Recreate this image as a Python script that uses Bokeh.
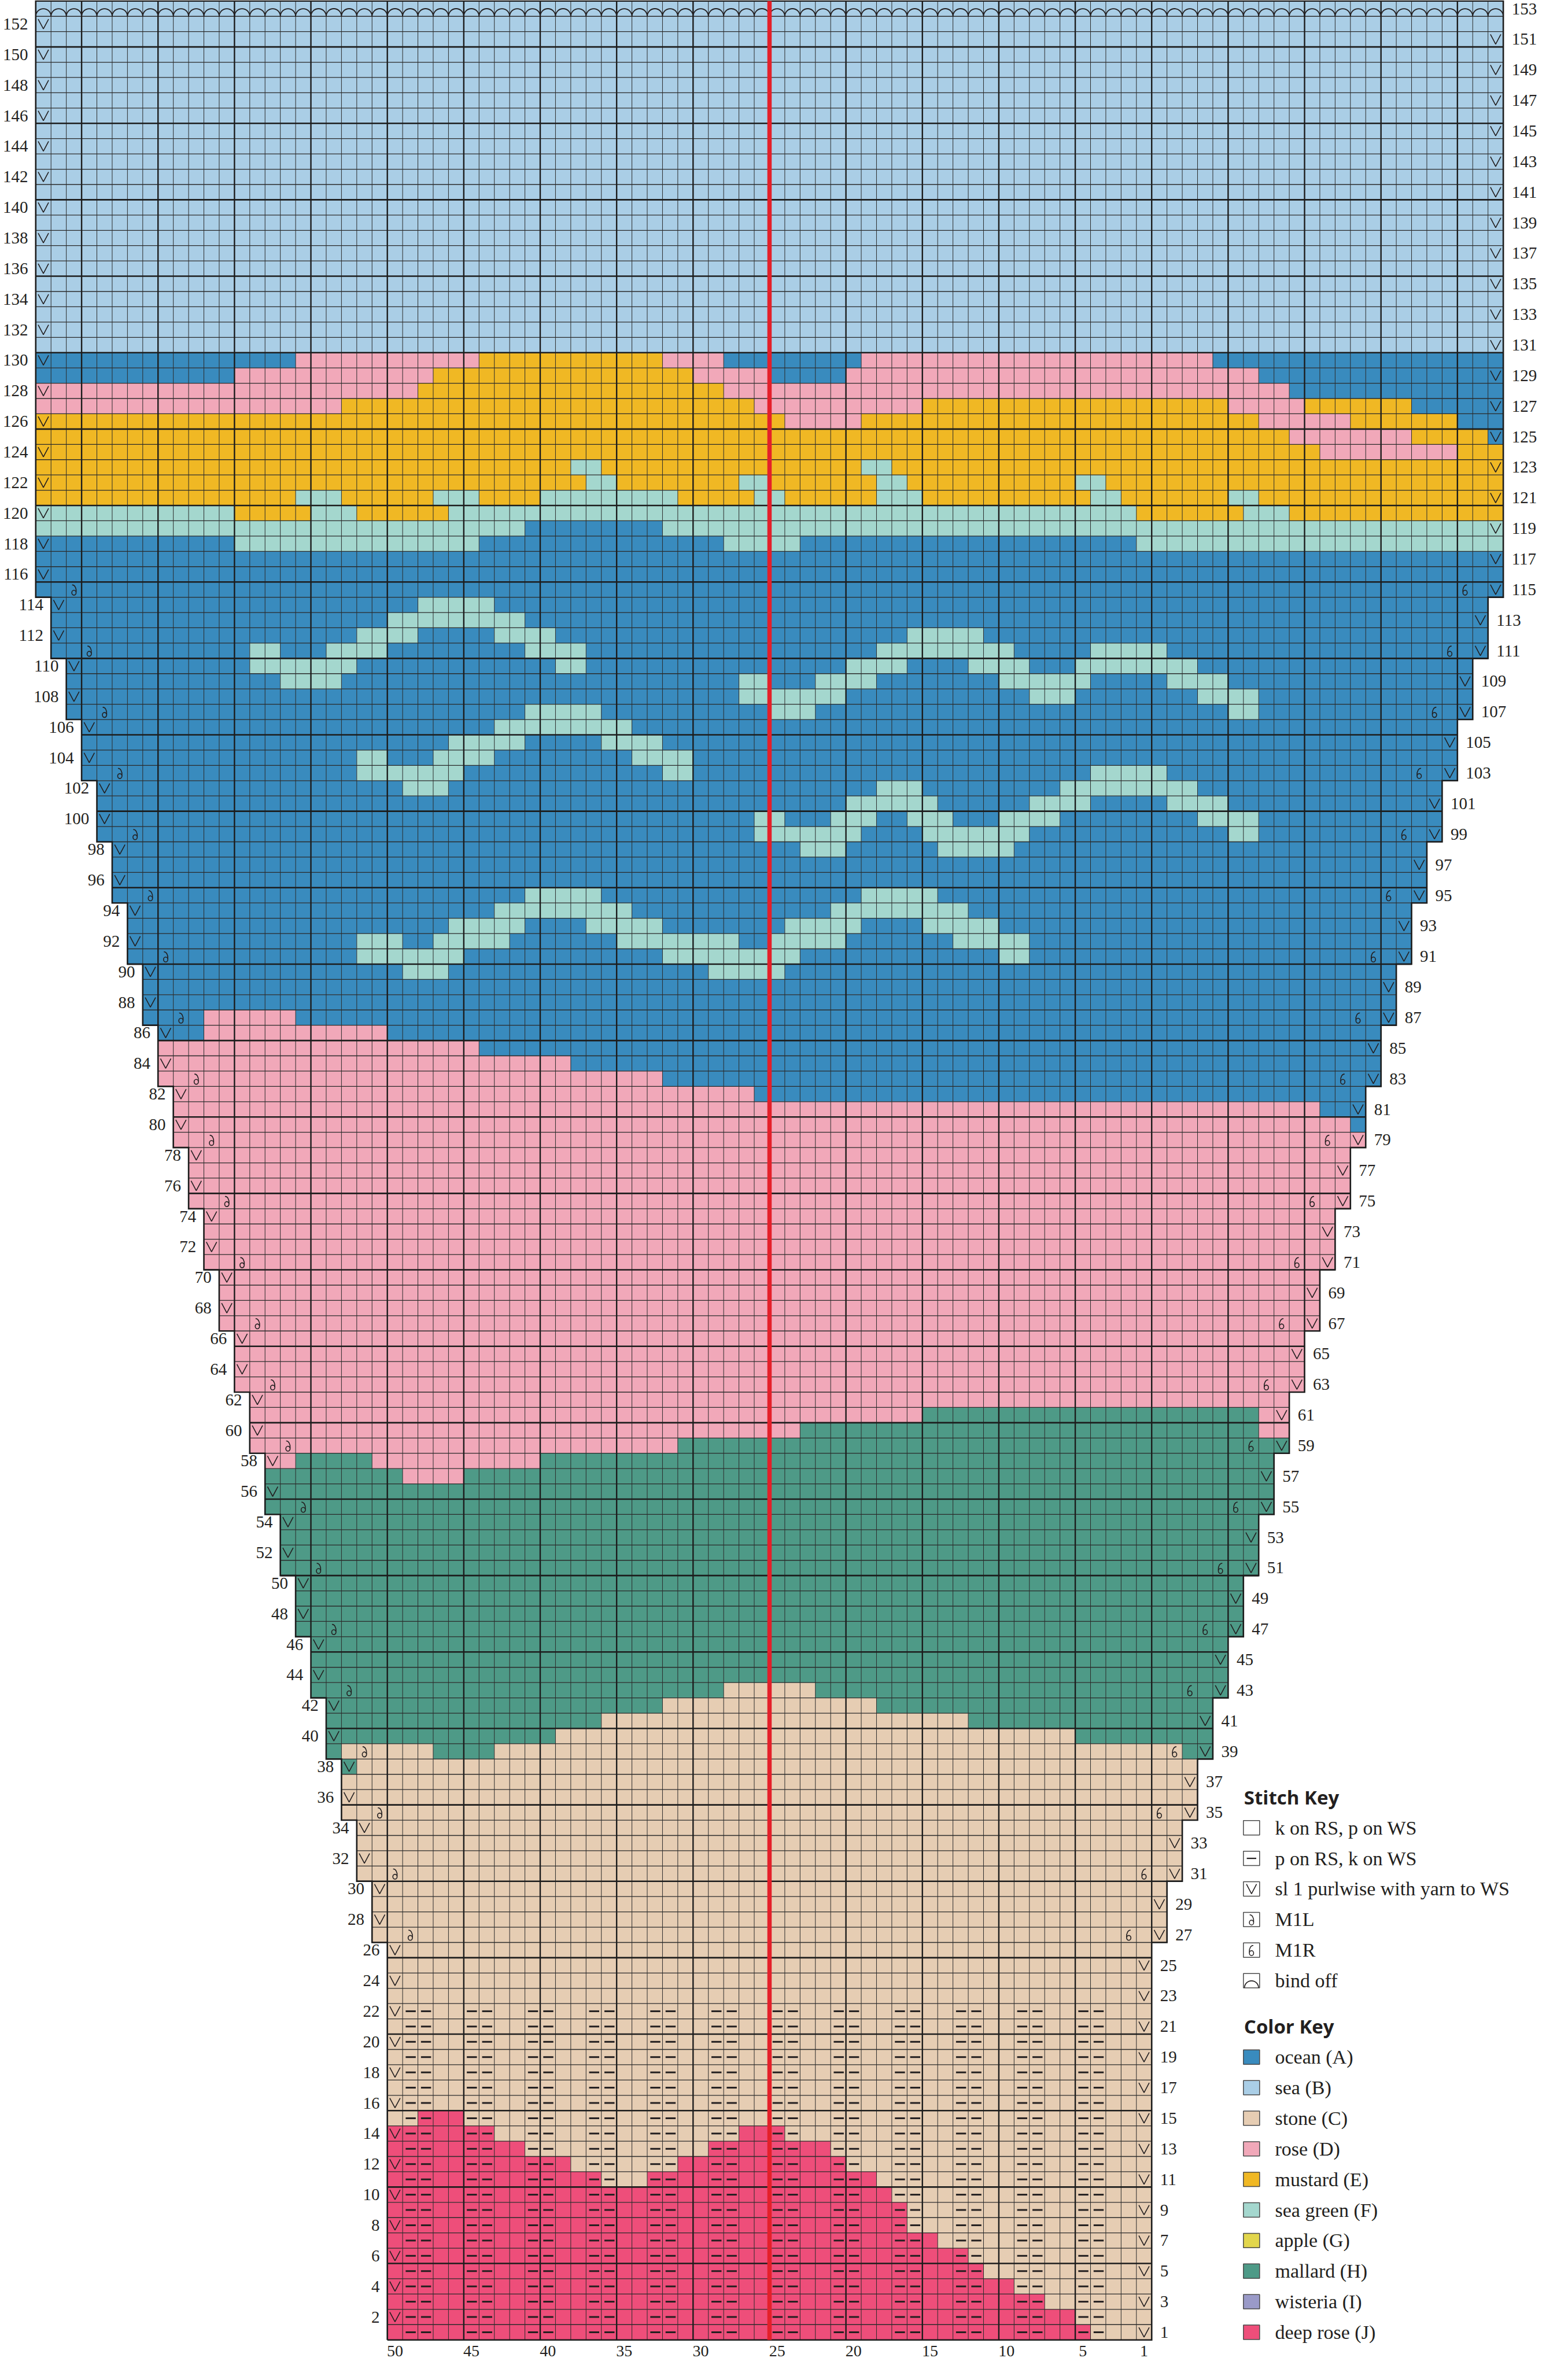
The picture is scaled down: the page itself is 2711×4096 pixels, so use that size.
import math
from bokeh.plotting import figure
from bokeh.models import Range1d, ColumnDataSource
from bokeh.core.properties import value
from bokeh.embed import file_html
from bokeh.resources import INLINE

# ------------------------------------------------------------------ data
TOP_ROW = 153
START_STITCHES = 50          # stitches 50..1 on the cast-on rows
LEFT_STITCH = 73             # stitch number of the leftmost (widest-row) grid column
CENTER_STITCH = 25           # red centre line sits on the left edge of stitch 25
INCREASE_ROWS = [27, 31, 35, 39, 43, 47, 51, 55, 59, 63, 67, 71, 75, 79, 83, 87,
                 91, 95, 99, 103, 107, 111, 115]
COL_TICKS = [50, 45, 40, 35, 30, 25, 20, 15, 10, 5, 1]
PURL_ROWS = [1, 2, 3, 4, 5, 6, 7, 8, 9, 10, 11, 12, 13, 14, 15, 16, 17, 18, 19, 20, 21, 22]
PURL_STITCHES = [49, 48, 45, 44, 41, 40, 37, 36, 33, 32, 29, 28, 25, 24, 21, 20,
                 17, 16, 13, 12, 9, 8, 5, 4]

COLOR_CODES = ["A", "B", "C", "D", "E", "F", "G", "H", "I", "J"]
COLOR_LABELS = ["ocean (A)", "sea (B)", "stone (C)", "rose (D)", "mustard (E)",
                "sea green (F)", "apple (G)", "mallard (H)", "wisteria (I)", "deep rose (J)"]
COLOR_HEX = ["#398bbe", "#aacee6", "#e6cdb3", "#f1a8b9", "#f0b824",
             "#a4d7ce", "#e2d64c", "#4e9a87", "#9a9ac8", "#ee4e7a"]
STITCH_LABELS = ["k on RS, p on WS", "p on RS, k on WS", "sl 1 purlwise with yarn to WS",
                 "M1L", "M1R", "bind off"]

# base colour per band of rows (row_from, row_to, colour)
BASE_COLOR = [(1, 38, "C"), (39, 58, "H"), (59, 85, "D"), (86, 130, "A"), (131, 153, "B")]

# colour runs per row, grid columns counted from the left edge of the widest row (0..95)
COLOR_RUNS = {
    1: "J23-68", 2: "J23-67", 3: "J23-65", 4: "J23-63", 5: "J23-61", 6: "J23-60",
    7: "J23-58", 8: "J23-56", 9: "J23-56", 10: "J23-55", 11: "J23-36 J40-54",
    12: "J23-34 J42-52", 13: "J23-31 J44-51", 14: "J23-29 J46-48", 15: "J25-27",
    38: "H20",
    39: "C20-25 C30-74", 40: "C34-67", 41: "C37-60", 42: "C41-54", 43: "C45-50",
    57: "D24-27",
    58: "D15-16 D22-32",
    59: "H42-81", 60: "H50-79", 61: "H58-79",
    80: "A86", 81: "A84-86", 82: "A47-86", 83: "A41-87", 84: "A35-87", 85: "A29-87",
    86: "D11-22", 87: "D11-16",
    90: "F24-26 F44-48",
    91: "F21-27 F41-49 F63-64",
    92: "F21-23 F26-30 F38-45 F48-52 F60-64",
    93: "F27-31 F36-40 F49-53 F58-62",
    94: "F30-38 F52-60",
    95: "F32-36 F54-58",
    98: "F50-52 F59-63",
    99: "F47-53 F58-64 F78-79",
    100: "F47-48 F52-54 F57-59 F63-66 F76-79",
    101: "F53-58 F65-68 F74-77",
    102: "F24-26 F55-57 F67-75",
    103: "F21-27 F41-42 F69-73",
    104: "F21-22 F26-29 F39-42",
    105: "F27-31 F37-40",
    106: "F30-38",
    107: "F32-36 F48-50 F78-79",
    108: "F46-52 F65-67 F76-79",
    109: "F16-19 F46-47 F51-54 F63-68 F74-77",
    110: "F14-20 F34-35 F53-56 F61-64 F68-75",
    111: "F14-15 F19-22 F32-35 F55-63 F69-73",
    112: "F21-24 F30-33 F57-61",
    113: "F23-31",
    114: "F25-29",
    118: "F13-28 F45-49 F72-95",
    119: "F0-31 F41-95",
    120: "F0-12 E13-17 F18-20 E21-26 F27-71 E72-78 F79-81 E82-95",
    121: "E0-16 F17-19 E20-25 F26-28 E29-32 F33-41 E42-46 F47-48 E49-54 F55-57 "
         "E58-68 F69-70 E71-77 F78-79 E80-95",
    122: "E0-35 F36-37 E38-45 F46-47 E48-54 F55-56 E57-67 F68-69 E70-95",
    123: "E0-34 F35-36 E37-53 F54-55 E56-95",
    124: "E0-83 D84-92 E93-95",
    125: "E0-81 D82-89 E90-94",
    126: "E0-48 D49-53 E54-79 D80-85 E86-92",
    127: "D0-19 E20-46 D47-57 E58-77 D78-82 E83-89",
    128: "D0-24 E25-44 D45-81",
    129: "D13-25 E26-42 D43-47 D53-79",
    130: "D17-28 E29-40 D41-44 D54-76",
}

# ------------------------------------------------------------------ helpers
ROWS = list(range(1, TOP_ROW + 1))
HEX = dict(zip(COLOR_CODES, COLOR_HEX))
CENTER_X = LEFT_STITCH - CENTER_STITCH


def n_inc(r):
    return sum(1 for q in INCREASE_ROWS if q <= r)


def left(r):
    return CENTER_X - (START_STITCHES // 2 + n_inc(r))


def right(r):
    return CENTER_X + START_STITCHES // 2 + n_inc(r)


def base_of(r):
    for a, b, c in BASE_COLOR:
        if a <= r <= b:
            return c
    return "B"


def parse_runs(s):
    out = []
    for tok in s.split():
        code, rng = tok[0], tok[1:]
        if "-" in rng:
            a, b = rng.split("-")
            out.append((code, int(a), int(b)))
        else:
            out.append((code, int(rng), int(rng)))
    return out


# ------------------------------------------------------------------ figure
CELL_REF = 26.51
SCALE = 0.997
PX = CELL_REF * SCALE
FIG_W, FIG_H = 2695, 4080
X0 = (8.0 / SCALE - 69.5) / CELL_REF
Y_TOP = 153.05

p = figure(width=FIG_W, height=FIG_H,
           x_range=Range1d(X0, X0 + FIG_W / PX),
           y_range=Range1d(Y_TOP - FIG_H / PX, Y_TOP),
           output_backend="svg", toolbar_location=None,
           x_axis_location=None, y_axis_location=None, min_border=0)
p.grid.visible = False
p.outline_line_color = None
p.background_fill_color = "white"
p.border_fill_color = "white"

INK = "#231f20"

# cell fills (merged runs per row)
q = dict(l=[], r=[], b=[], t=[], c=[])
for r in ROWS:
    lo, hi = left(r), right(r)
    cells = [base_of(r)] * (hi - lo)
    for code, a, b in parse_runs(COLOR_RUNS.get(r, "")):
        for i in range(max(a, lo), min(b, hi - 1) + 1):
            cells[i - lo] = code
    start = lo
    for i in range(lo + 1, hi + 1):
        if i == hi or cells[i - lo] != cells[start - lo]:
            q["l"].append(start); q["r"].append(i)
            q["b"].append(r - 1); q["t"].append(r)
            q["c"].append(HEX[cells[start - lo]])
            start = i
p.quad(left="l", right="r", bottom="b", top="t", fill_color="c", line_color=None,
       source=ColumnDataSource(q))


# grid lines
def vspan(x):
    inside = [r for r in ROWS if left(r) < x < right(r)]
    return min(inside) - 1, TOP_ROW


thin_v = dict(x0=[], y0=[], x1=[], y1=[])
thick_v = dict(x0=[], y0=[], x1=[], y1=[])
for x in range(1, right(TOP_ROW)):
    y0, y1 = vspan(x)
    d = thick_v if (x - 3) % 5 == 0 else thin_v
    d["x0"].append(x); d["x1"].append(x); d["y0"].append(y0); d["y1"].append(y1)
thin_h = dict(x0=[], y0=[], x1=[], y1=[])
thick_h = dict(x0=[], y0=[], x1=[], y1=[])
for y in range(1, TOP_ROW):
    d = thick_h if y % 5 == 0 else thin_h
    d["x0"].append(left(y + 1)); d["x1"].append(right(y + 1))
    d["y0"].append(y); d["y1"].append(y)

p.segment(x0="x0", y0="y0", x1="x1", y1="y1", source=ColumnDataSource(thin_v),
          line_color="#2b2b2b", line_width=1.0)
p.segment(x0="x0", y0="y0", x1="x1", y1="y1", source=ColumnDataSource(thin_h),
          line_color="#2b2b2b", line_width=1.3)
p.segment(x0="x0", y0="y0", x1="x1", y1="y1", source=ColumnDataSource(thick_v),
          line_color="#1c1c1c", line_width=2.4)
p.segment(x0="x0", y0="y0", x1="x1", y1="y1", source=ColumnDataSource(thick_h),
          line_color="#1c1c1c", line_width=2.6)

# outline of the stepped shape
ox, oy = [left(1)], [0]
for r in ROWS:
    ox += [right(r), right(r)]; oy += [r - 1, r]
for r in reversed(ROWS):
    ox += [left(r), left(r)]; oy += [r, r - 1]
p.line(ox, oy, line_color="#1c1c1c", line_width=2.6, line_join="miter")

# slipped-stitch V's
vx, vy = [], []
for r in range(1, TOP_ROW):
    i = left(r) if r % 2 == 0 else right(r) - 1
    vx.append([i + 0.16, i + 0.5, i + 0.84])
    vy.append([r - 0.18, r - 0.82, r - 0.18])
p.multi_line(vx, vy, line_color=INK, line_width=1.6)

# purl dashes
dx0, dx1, dy = [], [], []
for r in PURL_ROWS:
    for k in PURL_STITCHES:
        i = LEFT_STITCH - k
        dx0.append(i + 0.2); dx1.append(i + 0.86); dy.append(r - 0.5)
p.segment(x0=dx0, y0=dy, x1=dx1, y1=dy, line_color=INK, line_width=3.0)


# M1L / M1R glyphs
def m1(cxs, cys, mirror, lw=1.6):
    s = -1.0 if mirror else 1.0
    p.ellipse(x=cxs, y=[c - 0.2 for c in cys], width=0.28, height=0.32,
              fill_color=None, line_color=INK, line_width=lw)
    p.bezier(x0=[c + s * 0.14 for c in cxs], y0=[c - 0.16 for c in cys],
             cx0=[c + s * 0.17 for c in cxs], cy0=[c + 0.10 for c in cys],
             cx1=[c + s * 0.03 for c in cxs], cy1=[c + 0.33 for c in cys],
             x1=[c - s * 0.12 for c in cxs], y1=[c + 0.30 for c in cys],
             line_color=INK, line_width=lw)


m1([left(r) + 2.5 for r in INCREASE_ROWS], [r - 0.5 for r in INCREASE_ROWS], False)
m1([right(r) - 2.5 for r in INCREASE_ROWS], [r - 0.5 for r in INCREASE_ROWS], True)

# bind-off arcs on the last row
bx = [i + 0.5 for i in range(left(TOP_ROW), right(TOP_ROW))]
p.arc(x=bx, y=[TOP_ROW - 1] * len(bx), radius=0.5, start_angle=0, end_angle=math.pi,
      line_color=INK, line_width=1.8)

# red centre line
p.segment(x0=[CENTER_X], y0=[0], x1=[CENTER_X], y1=[TOP_ROW], line_color="#e4202a",
          line_width=7.5)

# row numbers
FONT = value("Liberation Serif")
even = [r for r in ROWS if r % 2 == 0]
odd = [r for r in ROWS if r % 2 == 1]
p.text(x=[left(r) - 0.5 for r in even], y=[r - 0.5 for r in even], text=[str(r) for r in even],
       text_font=FONT, text_font_size="29px", text_align="right", text_baseline="middle",
       text_color=INK)
p.text(x=[right(r) + 0.55 for r in odd], y=[r - 0.5 for r in odd], text=[str(r) for r in odd],
       text_font=FONT, text_font_size="29px", text_align="left", text_baseline="middle",
       text_color=INK)
# stitch numbers
p.text(x=[LEFT_STITCH - k + 0.5 for k in COL_TICKS], y=[-0.72] * len(COL_TICKS),
       text=[str(k) for k in COL_TICKS], text_font=FONT, text_font_size="28px",
       text_align="center", text_baseline="middle", text_color=INK)

# ------------------------------------------------------------------ keys
KX0, KX1, KT = 79.0, 80.06, 81.07
KC = (KX0 + KX1) / 2
HEAD = value("Open Sans")
p.text(x=[79.04, 79.04], y=[35.5, 20.5], text=["Stitch Key", "Color Key"], text_font=HEAD,
       text_font_style="bold", text_font_size="33px", text_align="left",
       text_baseline="middle", text_color=INK)

sy = [33.5 - 2 * j for j in range(len(STITCH_LABELS))]
p.quad(left=[KX0] * len(sy), right=[KX1] * len(sy), bottom=[y - 0.47 for y in sy],
       top=[y + 0.47 for y in sy], fill_color="white", line_color="#4a4a4a", line_width=1.5)
p.text(x=[KT] * len(sy), y=sy, text=STITCH_LABELS, text_font=FONT, text_font_size="34px",
       text_align="left", text_baseline="middle", text_color=INK)
p.segment(x0=[KX0 + 0.22], y0=[sy[1]], x1=[KX1 - 0.22], y1=[sy[1]], line_color=INK,
          line_width=2.2)
p.multi_line([[KC - 0.33, KC, KC + 0.33]], [[sy[2] + 0.32, sy[2] - 0.32, sy[2] + 0.32]],
             line_color=INK, line_width=1.6)
m1([KC], [sy[3]], False, 1.5)
m1([KC], [sy[4]], True, 1.5)
p.arc(x=[KC], y=[sy[5] - 0.47], radius=0.46, start_angle=0, end_angle=math.pi,
      line_color=INK, line_width=1.6)

cy = [18.5 - 2 * j for j in range(len(COLOR_LABELS))]
p.quad(left=[KX0] * len(cy), right=[KX1] * len(cy), bottom=[y - 0.47 for y in cy],
       top=[y + 0.47 for y in cy], fill_color=COLOR_HEX, line_color="#4a4a4a", line_width=1.5)
p.text(x=[KT] * len(cy), y=cy, text=COLOR_LABELS, text_font=FONT, text_font_size="34px",
       text_align="left", text_baseline="middle", text_color=INK)

open("out.html", "w").write(file_html(p, INLINE))
